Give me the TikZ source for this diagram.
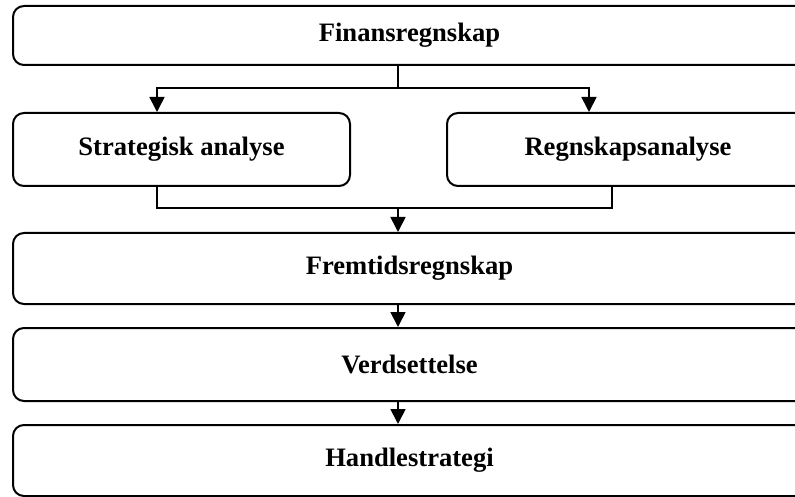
\documentclass[tikz,border=0pt]{standalone}
\usepackage{fontspec}
\setmainfont{Liberation Serif}
\usetikzlibrary{arrows.meta,positioning}

\begin{document}
\begin{tikzpicture}[
  x=1pt, y=-1pt,
  box/.style={draw, line width=2pt, rounded corners=11pt, anchor=north west,
    inner sep=0pt, font=\fontsize{26.6}{30}\selectfont\bfseries},
  conn/.style={draw, line width=1.7pt},
  arr/.style={conn, -{Triangle[width=15pt, length=15pt]}}
]
\useasboundingbox (0,0) rectangle (795,497);
\clip (0,0) rectangle (795,497);

\node[box, minimum width=793pt, minimum height=59pt] (fin) at (12,5) {Finansregnskap};
\node[box, minimum width=337pt, minimum height=73pt] (strat) at (12,112) {Strategisk analyse};
\node[box, minimum width=362pt, minimum height=73pt] (regn) at (446,112) {Regnskapsanalyse};
\node[box, minimum width=793pt, minimum height=71pt] (frem) at (12,232) {Fremtidsregnskap};
\node[box, minimum width=793pt, minimum height=73pt] (verd) at (12,327) {Verdsettelse};
\node[box, minimum width=793pt, minimum height=71pt] (hand) at (12,424) {Handlestrategi};

% x positions of the connectors
\coordinate (lx) at (157,0);
\coordinate (mx) at (398,0);
\coordinate (rx) at (589,0);
\coordinate (rmx) at (612,0);
\coordinate (split) at (398,88);
\coordinate (join) at (398,208);

\draw[conn] (fin.south -| mx) -- (split);
\draw[arr] (split) -| (lx |- strat.north);
\draw[arr] (split) -| (rx |- regn.north);

\draw[conn] (strat.south -| lx) |- (join) -| (regn.south -| rmx);
\draw[arr] (join) -- (frem.north -| mx);

\draw[arr] (frem.south -| mx) -- (verd.north -| mx);
\draw[arr] (verd.south -| mx) -- (hand.north -| mx);

\end{tikzpicture}
\end{document}
